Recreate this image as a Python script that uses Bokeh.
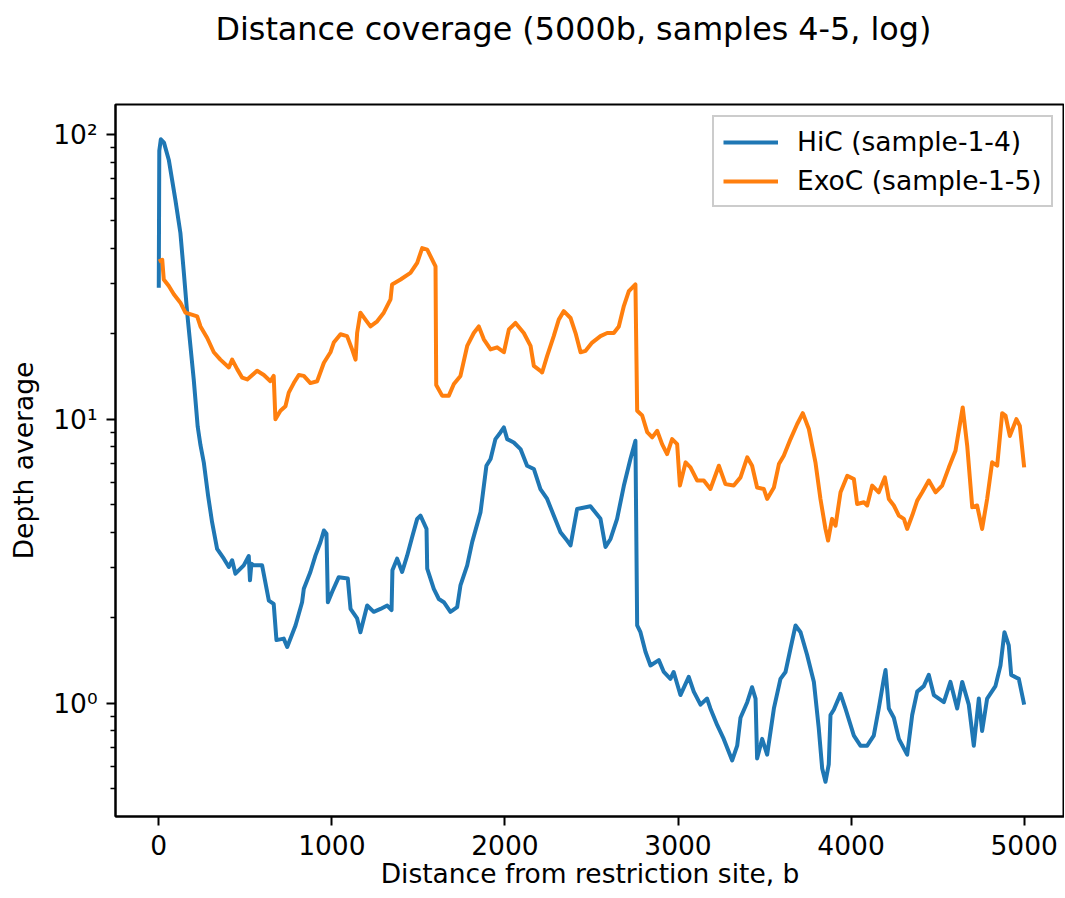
from bokeh.plotting import figure
from bokeh.models import Range1d, FixedTicker, CustomJSTickFormatter, Legend, LegendItem, Title
from bokeh.embed import file_html
from bokeh.resources import INLINE

TITLE = "Distance coverage (5000b, samples 4-5, log)"
X_LABEL = "Distance from restriction site, b"
Y_LABEL = "Depth average"
X_TICKS = [0, 1000, 2000, 3000, 4000, 5000]
Y_TICKS = [1, 10, 100]
Y_MINOR = [0.5, 0.6, 0.7, 0.8, 0.9, 2, 3, 4, 5, 6, 7, 8, 9,
           20, 30, 40, 50, 60, 70, 80, 90]
HIC_LABEL = "HiC (sample-1-4)"
EXOC_LABEL = "ExoC (sample-1-5)"

hic_x = [0, 3, 12, 30, 58, 77, 96, 125, 145, 164, 202, 225, 241, 260, 285, 308,
         337, 376, 405, 424, 443, 491, 520, 527, 535, 549, 597, 636, 664, 680, 722,
         742, 790, 828, 838, 876, 905, 934, 954, 969, 977, 1002, 1040, 1092, 1108,
         1146, 1165, 1204, 1242, 1281, 1320, 1345, 1350, 1377, 1406, 1435, 1464,
         1493, 1512, 1547, 1551, 1589, 1618, 1647, 1685, 1724, 1743, 1782, 1811,
         1859, 1893, 1917, 1945, 1974, 1994, 2013, 2051, 2090, 2128, 2167, 2205,
         2244, 2282, 2321, 2359, 2379, 2417, 2494, 2552, 2581, 2610, 2648, 2687,
         2725, 2754, 2764, 2783, 2812, 2841, 2889, 2918, 2956, 2975, 3014, 3062,
         3091, 3130, 3168, 3187, 3226, 3264, 3313, 3342, 3361, 3400, 3428, 3448,
         3457, 3486, 3515, 3554, 3592, 3621, 3650, 3679, 3708, 3746, 3785, 3813,
         3833, 3852, 3871, 3881, 3900, 3939, 3967, 4016, 4054, 4093, 4131, 4160,
         4189, 4199, 4218, 4247, 4276, 4324, 4353, 4382, 4420, 4449, 4478, 4536,
         4574, 4613, 4642, 4680, 4709, 4738, 4757, 4786, 4834, 4863, 4886, 4911,
         4925, 4969, 5000]
hic_y = [29, 88, 96.6, 94, 81.7, 69.5, 59.1, 45.2, 32.7, 23.7, 13.8, 9.4, 8.1, 7.05,
         5.38, 4.34, 3.50, 3.23, 3.02, 3.19, 2.86, 3.06, 3.30, 2.71, 3.10, 3.06, 3.06,
         2.30, 2.24, 1.67, 1.69, 1.58, 1.88, 2.27, 2.53, 2.90, 3.31, 3.69, 4.06, 3.95,
         2.27, 2.47, 2.78, 2.75, 2.15, 1.99, 1.78, 2.21, 2.10, 2.15, 2.21, 2.13, 2.94,
         3.23, 2.90, 3.31, 3.85, 4.46, 4.58, 4.11, 2.98, 2.53, 2.33, 2.27, 2.10, 2.18,
         2.60, 3.06, 3.70, 4.71, 6.86, 7.24, 8.51, 8.98, 9.35, 8.51, 8.28, 7.85, 6.86,
         6.68, 5.68, 5.24, 4.58, 4.00, 3.74, 3.60, 4.83, 4.94, 4.46, 3.55, 3.79, 4.46,
         5.83, 7.24, 8.40, 1.88, 1.78, 1.52, 1.36, 1.42, 1.29, 1.22, 1.29, 1.07, 1.24,
         1.10, 0.99, 1.04, 0.96, 0.84, 0.75, 0.63, 0.71, 0.89, 1.01, 1.14, 1.04, 0.64,
         0.75, 0.66, 0.96, 1.22, 1.29, 1.56, 1.88, 1.78, 1.48, 1.19, 0.82, 0.59, 0.53,
         0.61, 0.91, 0.95, 1.08, 0.96, 0.77, 0.71, 0.71, 0.77, 0.96, 1.22, 1.31, 0.96,
         0.89, 0.75, 0.66, 0.91, 1.10, 1.15, 1.26, 1.07, 1.01, 1.19, 0.96, 1.19, 0.99,
         0.71, 1.04, 0.80, 1.04, 1.15, 1.36, 1.78, 1.60, 1.26, 1.22, 0.99]

exoc_x = [0, 20, 29, 58, 87, 125, 154, 222, 241, 280, 318, 356, 405, 424, 453, 482,
          511, 568, 607, 645, 664, 674, 703, 732, 751, 780, 809, 838, 876, 915, 954,
          992, 1011, 1050, 1088, 1117, 1137, 1146, 1165, 1194, 1223, 1262, 1300, 1339,
          1348, 1397, 1454, 1493, 1522, 1551, 1599, 1603, 1637, 1676, 1705, 1743, 1782,
          1820, 1849, 1878, 1917, 1955, 1994, 2023, 2061, 2109, 2148, 2167, 2205, 2215,
          2244, 2282, 2311, 2340, 2379, 2408, 2437, 2466, 2504, 2552, 2591, 2629, 2658,
          2687, 2716, 2754, 2764, 2793, 2822, 2851, 2880, 2908, 2937, 2966, 2995, 3011,
          3044, 3072, 3111, 3149, 3187, 3236, 3274, 3322, 3361, 3400, 3428, 3457, 3496,
          3515, 3554, 3583, 3611, 3650, 3688, 3721, 3756, 3794, 3823, 3852, 3867, 3890,
          3910, 3939, 3978, 4016, 4035, 4074, 4093, 4122, 4160, 4195, 4218, 4247, 4276,
          4305, 4324, 4353, 4382, 4411, 4449, 4488, 4526, 4565, 4603, 4645, 4671, 4700,
          4728, 4757, 4786, 4815, 4844, 4873, 4892, 4917, 4955, 4975, 5000]
exoc_y = [35.9, 36.4, 31.0, 29.4, 27.5, 25.7, 23.7, 23.0, 21.2, 19.3, 17.2, 16.2, 15.2,
          16.2, 15.0, 14.0, 13.8, 14.8, 14.3, 13.6, 14.2, 10.0, 10.7, 11.1, 12.4, 13.4,
          14.3, 14.2, 13.4, 13.6, 15.8, 17.2, 18.6, 19.9, 19.6, 17.6, 16.2, 20.1, 23.7,
          22.4, 21.2, 22.1, 23.7, 26.4, 29.8, 31.0, 32.7, 35.5, 40.0, 39.5, 34.5, 13.2,
          12.1, 12.1, 13.3, 14.2, 18.1, 20.1, 21.2, 19.1, 17.6, 17.9, 17.2, 20.7, 21.8,
          20.1, 18.1, 15.4, 14.8, 14.6, 16.7, 19.6, 22.4, 24.0, 22.7, 20.1, 17.2, 17.4,
          18.6, 19.6, 20.1, 20.1, 21.2, 25.0, 28.2, 29.8, 10.7, 10.3, 9.0, 8.63, 9.10,
          8.17, 7.54, 8.51, 8.17, 5.84, 7.05, 6.77, 6.08, 6.08, 5.68, 6.86, 5.91, 5.84,
          6.24, 7.34, 6.86, 5.75, 5.68, 5.24, 5.75, 6.95, 7.44, 8.51, 9.60, 10.5, 9.23,
          7.05, 5.24, 4.11, 3.74, 4.46, 4.22, 5.53, 6.32, 6.16, 5.03, 5.10, 4.97, 5.84,
          5.53, 6.24, 5.24, 4.97, 4.58, 4.46, 4.11, 4.58, 5.17, 5.53, 6.08, 5.53, 5.84,
          6.77, 7.74, 11.0, 8.05, 4.90, 4.97, 4.11, 5.24, 7.05, 6.86, 10.5, 10.3, 8.73,
          10.0, 9.47, 6.77]

FONT = "DejaVu Sans"
FS = "26.5px"

p = figure(width=1064, height=896, title=None,
           x_range=Range1d(-250, 5233), y_range=Range1d(0.40, 128),
           y_axis_type="log", output_backend="svg", toolbar_location=None,
           min_border_left=115, min_border_right=0, min_border_top=104,
           min_border_bottom=80)

p.background_fill_color = "white"
p.border_fill_color = "white"
p.outline_line_color = "black"
p.outline_line_width = 2
p.xgrid.visible = False
p.ygrid.visible = False

r1 = p.line(hic_x, hic_y, line_color="#1f77b4", line_width=4, line_join="round")
r2 = p.line(exoc_x, exoc_y, line_color="#ff7f0e", line_width=4, line_join="round")

# blank (white) spacer next to the frame, then the title above it
spacer = Title(text=" ", text_font_size="1px", text_color="white", standoff=55)
p.add_layout(spacer, "above")
main_title = Title(text=TITLE, text_font=FONT, text_font_size="31.8px",
                   text_font_style="normal", text_color="black",
                   align="left", offset=100, standoff=0)
p.add_layout(main_title, "above")

for ax in (p.xaxis[0], p.yaxis[0]):
    ax.axis_line_color = "black"
    ax.axis_line_width = 2
    ax.major_tick_line_color = "black"
    ax.major_tick_line_width = 2
    ax.major_tick_out = 9
    ax.major_tick_in = 0
    ax.major_label_text_font = FONT
    ax.major_label_text_font_size = FS
    ax.major_label_text_color = "black"
    ax.axis_label_text_font = FONT
    ax.axis_label_text_font_size = FS
    ax.axis_label_text_font_style = "normal"
    ax.axis_label_text_color = "black"

p.xaxis[0].ticker = FixedTicker(ticks=X_TICKS, minor_ticks=[])
p.xaxis[0].minor_tick_line_color = None
p.xaxis[0].axis_label = X_LABEL
p.xaxis[0].major_label_standoff = 9
p.xaxis[0].axis_label_standoff = 0

p.yaxis[0].ticker = FixedTicker(ticks=Y_TICKS, minor_ticks=Y_MINOR)
p.yaxis[0].formatter = CustomJSTickFormatter(code="""
const e = Math.round(Math.log10(tick));
const sup = {"-1": "\u207b\u00b9", "0": "\u2070", "1": "\u00b9", "2": "\u00b2", "3": "\u00b3"};
return "10" + sup[String(e)];
""")
p.yaxis[0].minor_tick_line_color = "black"
p.yaxis[0].minor_tick_line_width = 1.5
p.yaxis[0].minor_tick_out = 5
p.yaxis[0].minor_tick_in = 0
p.yaxis[0].axis_label = Y_LABEL
p.yaxis[0].major_label_standoff = 9
p.yaxis[0].axis_label_standoff = 11

legend = Legend(items=[LegendItem(label=HIC_LABEL, renderers=[r1]),
                       LegendItem(label=EXOC_LABEL, renderers=[r2])],
                location=(597, 609))
legend.border_line_color = "#cccccc"
legend.border_line_width = 2
legend.border_line_alpha = 1
legend.background_fill_color = "white"
legend.background_fill_alpha = 0.8
legend.label_text_font = FONT
legend.label_text_font_size = FS
legend.label_text_color = "black"
legend.glyph_width = 55
legend.glyph_height = 30
legend.label_height = 30
legend.label_standoff = 19
legend.spacing = 8
legend.padding = 9
legend.margin = 0
p.add_layout(legend)

with open("out.html", "w") as f:
    f.write(file_html(p, INLINE))
